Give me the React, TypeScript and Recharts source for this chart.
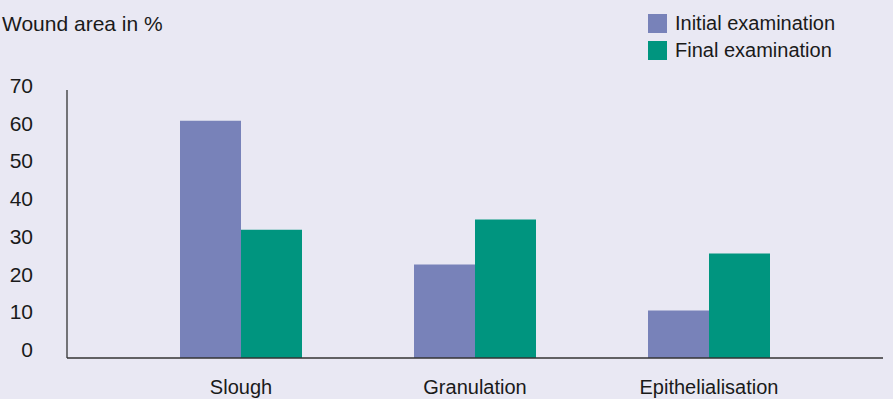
import React from "react";
import { BarChart, Bar, XAxis, YAxis } from "recharts";

const categories = ["Slough", "Granulation", "Epithelialisation"];
const initialValues = [62, 24.4, 12.4];
const finalValues = [33.5, 36.2, 27.3];
const yTicks = [0, 10, 20, 30, 40, 50, 60, 70];
const seriesNames = ["Initial examination", "Final examination"];

const data = categories.map((c, i) => ({
  name: c,
  initial: initialValues[i],
  final: finalValues[i],
}));

const FONT = "'Liberation Sans', Arial, sans-serif";
const BG = "#e9e8f3";
const C1 = "#7882b9";
const C2 = "#00957f";
const TXT = "#1a1a1a";

const YTick = (props: any) => {
  const { y, payload } = props;
  const off = 4 + (1 - payload.value / 70) * 4;
  return (
    <text x={33} y={y - off + 7} textAnchor="end" fontFamily={FONT} fontSize={21} fill={TXT}>
      {payload.value}
    </text>
  );
};

const XTick = (props: any) => {
  const { x, payload } = props;
  return (
    <text x={x} y={394} textAnchor="middle" fontFamily={FONT} fontSize={20} fill={TXT}>
      {payload.value}
    </text>
  );
};

export default function App() {
  return (
    <div style={{ position: "absolute", left: 0, top: 0, width: 893, height: 399, background: BG }}>
      <div
        style={{
          position: "absolute",
          left: 2,
          top: 12,
          fontFamily: FONT,
          fontSize: 21,
          lineHeight: "24px",
          color: TXT,
          whiteSpace: "nowrap",
        }}
      >
        Wound area in %
      </div>
      <div
        style={{
          position: "absolute",
          left: 648,
          top: 10,
          fontFamily: FONT,
          fontSize: 20,
          color: TXT,
        }}
      >
        {seriesNames.map((n, i) => (
          <div key={n} style={{ display: "flex", alignItems: "center", height: 27 }}>
            <div style={{ width: 19, height: 19, background: i === 0 ? C1 : C2, marginRight: 8 }} />
            <span style={{ whiteSpace: "nowrap" }}>{n}</span>
          </div>
        ))}
      </div>
      <div style={{ position: "absolute", left: 0, top: 0 }}>
        <BarChart
          width={893}
          height={399}
          data={data}
          margin={{ top: 90, right: 10, bottom: 0, left: 0 }}
          barCategoryGap={56}
          barGap={0}
        >
          <XAxis
            dataKey="name"
            height={41}
            padding={{ left: 57, right: 57 }}
            axisLine={{ stroke: "#333", strokeWidth: 1.3 }}
            tickLine={false}
            tick={<XTick />}
            interval={0}
          />
          <YAxis
            width={67}
            domain={[0, 70]}
            ticks={yTicks}
            axisLine={{ stroke: "#333", strokeWidth: 1.3 }}
            tickLine={false}
            tick={<YTick />}
            interval={0}
          />
          <Bar dataKey="initial" name={seriesNames[0]} fill={C1} isAnimationActive={false} />
          <Bar dataKey="final" name={seriesNames[1]} fill={C2} isAnimationActive={false} />
        </BarChart>
      </div>
    </div>
  );
}
